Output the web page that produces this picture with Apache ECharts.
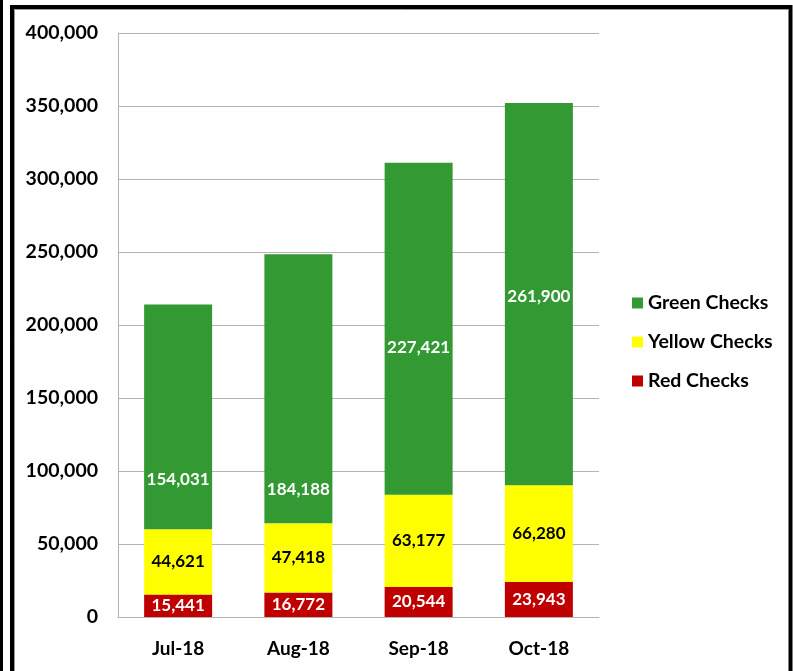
<!DOCTYPE html>
<html>
<head>
<meta charset="utf-8">
<script src="https://cdn.jsdelivr.net/npm/echarts@6/dist/echarts.min.js"></script>
<style>
	html, body { margin: 0; padding: 0; background: #fff; }
	#main { width: 793px; height: 671px; }
</style>
</head>
<body>
<div id="main"></div>
<script>
	var months = ['Jul-18', 'Aug-18', 'Sep-18', 'Oct-18'];
	var seriesNames = ['Red Checks', 'Yellow Checks', 'Green Checks'];
	var redChecks = [15441, 16772, 20544, 23943];
	var yellowChecks = [44621, 47418, 63177, 66280];
	var greenChecks = [154031, 184188, 227421, 261900];

	// 绿色标签位置偏移（像素）
	var greenLabelShift = [63, 101, 19, 2];

	var font = 'Lato, "Open Sans", sans-serif';

	function fmt(v) {
		return v.toLocaleString('en-US');
	}

	var myChart = echarts.init(document.getElementById('main'));

	var option = {
		backgroundColor: '#ffffff',
		animation: false,
		textStyle: {
			fontFamily: font
		},
		legend: {
			orient: 'vertical',
			left: 627,
			top: 288,
			icon: 'rect',
			itemWidth: 11,
			itemHeight: 11,
			itemGap: 19,
			data: ['Green Checks', 'Yellow Checks', 'Red Checks'],
			textStyle: {
				fontFamily: font,
				fontSize: 19.5,
				fontWeight: 'bold',
				color: '#000',
				lineHeight: 20
			}
		},
		grid: {
			left: 118,
			top: 33,
			width: 481,
			height: 584,
			containLabel: false
		},
		xAxis: {
			type: 'category',
			data: months,
			axisTick: { show: false },
			axisLine: {
				lineStyle: { color: '#b3b3b3', width: 1 }
			},
			axisLabel: {
				margin: 22,
				color: '#000',
				fontSize: 19,
				fontWeight: 'bold',
				fontFamily: font
			}
		},
		yAxis: {
			type: 'value',
			min: 0,
			max: 400000,
			interval: 50000,
			axisLine: {
				show: true,
				lineStyle: { color: '#b3b3b3', width: 1 }
			},
			axisTick: { show: false },
			splitLine: {
				lineStyle: { color: '#b3b3b3', width: 1 }
			},
			axisLabel: {
				margin: 20,
				color: '#000',
				fontSize: 19.5,
				fontWeight: 'bold',
				fontFamily: font,
				formatter: function(v) {
					return fmt(v);
				}
			}
		},
		series: [{
			name: 'Red Checks',
			type: 'bar',
			stack: 'checks',
			barWidth: 68,
			itemStyle: { color: '#c00000' },
			label: {
				show: true,
				position: 'inside',
				color: '#fff',
				fontSize: 17,
				fontWeight: 'bold',
				fontFamily: font,
				formatter: function(p) { return fmt(p.value); }
			},
			data: redChecks
		}, {
			name: 'Yellow Checks',
			type: 'bar',
			stack: 'checks',
			barWidth: 68,
			itemStyle: { color: '#ffff00' },
			label: {
				show: true,
				position: 'inside',
				color: '#000',
				fontSize: 17,
				fontWeight: 'bold',
				fontFamily: font,
				formatter: function(p) { return fmt(p.value); }
			},
			data: yellowChecks
		}, {
			name: 'Green Checks',
			type: 'bar',
			stack: 'checks',
			barWidth: 68,
			itemStyle: { color: '#339933' },
			label: {
				show: true,
				position: 'inside',
				color: '#fff',
				fontSize: 17,
				fontWeight: 'bold',
				fontFamily: font,
				formatter: function(p) { return fmt(p.value); }
			},
			data: greenChecks.map(function(v, i) {
				return {
					value: v,
					label: { offset: [0, greenLabelShift[i]] }
				};
			})
		}],
		graphic: [{
			type: 'rect',
			shape: { x: 0, y: 0, width: 3, height: 671 },
			style: { fill: '#000' },
			silent: true
		}, {
			type: 'polyline',
			shape: { points: [[12, 671], [12, 7], [790.5, 7], [790.5, 671]] },
			style: { stroke: '#000', lineWidth: 4, fill: null },
			silent: true
		}, {
			type: 'polyline',
			shape: { points: [[14.5, 671], [14.5, 9.5], [788, 9.5]] },
			style: { stroke: '#999', lineWidth: 1, fill: null },
			silent: true
		}]
	};

	myChart.setOption(option);

	window.onresize = function() {
		myChart.resize();
	}
</script>
</body>
</html>
